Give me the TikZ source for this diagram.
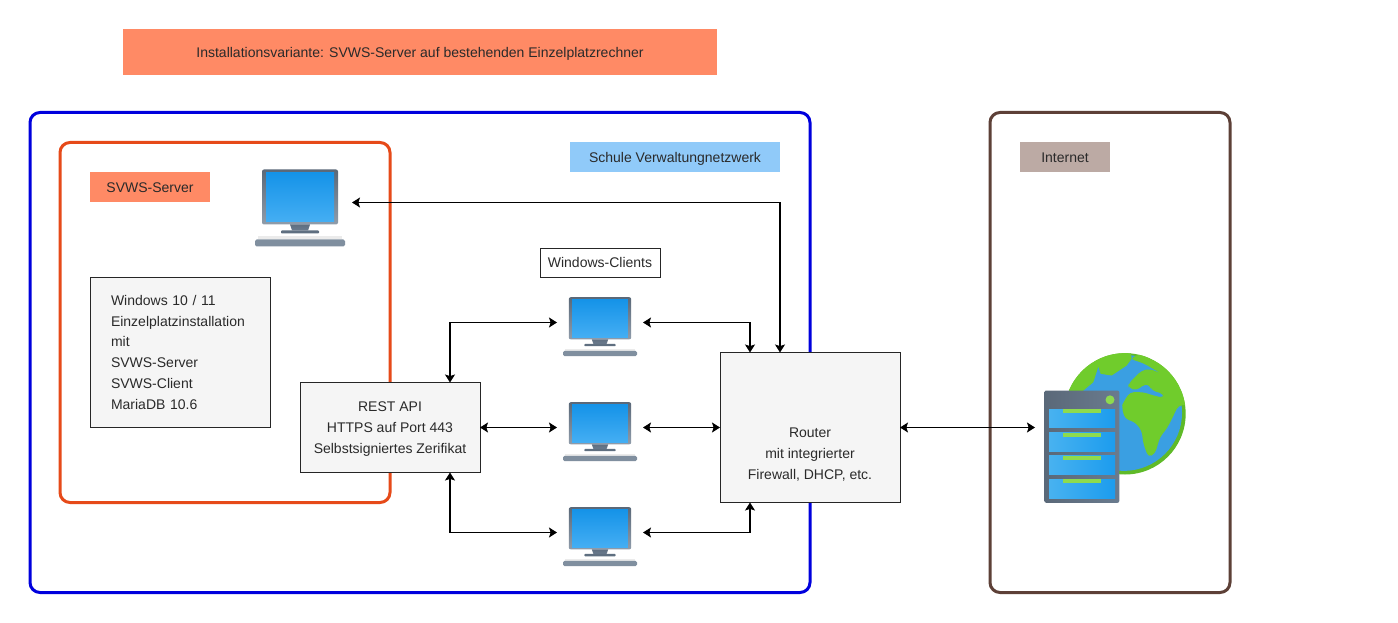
\documentclass[tikz,border=0pt]{standalone}
\usepackage{fontspec}
\setmainfont{Liberation Sans}
\usetikzlibrary{arrows.meta}
\def\px{0.75pt}
\newcommand\stTop{\rule{0pt}{9.5pt}}
\newcommand\stBot{\rule[-2pt]{0pt}{2pt}}
\definecolor{salmon}{HTML}{FF8A65}
\definecolor{skyb}{HTML}{90CAF9}
\definecolor{taupe}{HTML}{BCAAA4}
\definecolor{framebl}{HTML}{0000DD}
\definecolor{frameor}{HTML}{E64A19}
\definecolor{framebr}{HTML}{5D4037}
\definecolor{boxfill}{HTML}{F5F5F5}
\definecolor{txt}{HTML}{2A2A2A}
\definecolor{slate}{HTML}{6A7B8E}
\definecolor{glgreen}{HTML}{70CC2C}
\definecolor{glrim}{HTML}{5FBA28}
\definecolor{glblue}{HTML}{3A9FE2}
\definecolor{barg}{HTML}{8EDB4E}
\tikzset{
  every node/.style={font=\fontsize{10.5}{15.75}\selectfont, text=txt, outer sep=0pt},
  frame/.style={draw, line width=2.25pt, rounded corners=7.5pt, fill=none},
  label/.style={fill=#1, align=center, text height=9.5pt, text depth=2pt, inner ysep=0pt},
  whitebox/.style={draw=black!85, line width=\px, fill=white, align=center, text height=9.5pt, text depth=2pt, inner ysep=0pt},
  infobox/.style={draw=black!85, line width=\px, fill=boxfill, align=center, inner ysep=0pt},
  anchorbox/.style={inner sep=0pt},
  link/.style={line width=0.85pt, black, {Stealth[length=6pt,width=7.5pt,inset=1.2pt]}-{Stealth[length=6pt,width=7.5pt,inset=1.2pt]}},
  monitor/.pic={
    \shade[top color=slate!85!black, bottom color=slate!75, rounded corners=1.5pt] (-38,-33) rectangle (38,22);
    \shade[top color=slate!90!black, bottom color=slate] (-10,22) -- (10,22) -- (8,28) -- (-8,28) -- cycle;
    \fill[slate!90!black, rounded corners=.6pt] (-19,28) rectangle (19,31);
    \shade[top color={rgb,255:red,21;green,147;blue,232}, bottom color={rgb,255:red,68;green,174;blue,243}] (-34,-30) rectangle (34,19);
    \fill[black!8] (-42,34) rectangle (42,37);
    \fill[slate!85, rounded corners=1.2pt] (-45,37) rectangle (45,44);
  }
}
\begin{document}
\begin{tikzpicture}[x=0.75pt,y=-0.75pt]
\useasboundingbox (0,-0.5) rectangle (1398,622.5);
\fill[white] (0,-0.5) rectangle (1398,622.5);

% frames
\node[frame, draw=framebl, minimum width=780*\px, minimum height=480*\px] (netz) at (420,352) {};
\node[frame, draw=frameor, minimum width=330*\px, minimum height=360*\px] (srvframe) at (225,322) {};
\node[frame, draw=framebr, minimum width=240*\px, minimum height=480*\px] (inet) at (1110,352) {};

% labels
\node[label=salmon, minimum width=594*\px, minimum height=46*\px] (title) at (420,52) {Installationsvariante: SVWS-Server auf bestehenden Einzelplatzrechner};
\node[label=salmon, minimum width=120*\px, minimum height=30*\px] (lsrv) at (150,187) {SVWS-Server};
\node[label=skyb, minimum width=210*\px, minimum height=30*\px] (lnetz) at (675,157) {Schule Verwaltungnetzwerk};
\node[label=taupe, minimum width=90*\px, minimum height=30*\px] (linet) at (1065,157) {Internet};
\node[whitebox, minimum width=120*\px, minimum height=29*\px] (lclients) at (600,262.5) {Windows-Clients};

% boxes
\node[infobox, minimum width=180*\px, minimum height=150*\px, text width=138*\px, inner xsep=21*\px, align=left] (os) at (180,352)
  {\stTop Windows 10 / 11\\Einzelplatzinstallation\\mit\\SVWS-Server\\SVWS-Client\\MariaDB 10.6\stBot};
\node[infobox, minimum width=180*\px, minimum height=90*\px] (api) at (390,427)
  {\stTop REST API\\HTTPS auf Port 443\\Selbstsigniertes Zerifikat\stBot};
\node[infobox, minimum width=180*\px, minimum height=150*\px] (router) at (810,427)
  {\rule{0pt}{48.5pt}Router\\mit integrierter\\Firewall, DHCP, etc.\stBot};

% icon anchors
\node[anchorbox, minimum width=104*\px, minimum height=80*\px] (host) at (300,202) {};
\node[anchorbox, minimum width=86*\px, minimum height=60*\px] (c1) at (600,322) {};
\node[anchorbox, minimum width=86*\px, minimum height=60*\px] (c2) at (600,427) {};
\node[anchorbox, minimum width=86*\px, minimum height=60*\px] (c3) at (600,532) {};
\node[anchorbox, minimum width=150*\px, minimum height=150*\px] (www) at (1110,427) {};

% icons
\pic at (host.center) {monitor};
\pic[xscale=.822,yscale=.766] at (c1.center) {monitor};
\pic[xscale=.822,yscale=.766] at (c2.center) {monitor};
\pic[xscale=.822,yscale=.766] at (c3.center) {monitor};

% globe and server (coordinates of a 3x crop)
\begin{scope}[shift={(1030,340)},x=0.25pt,y=-0.25pt]
  \fill[glrim] (285,220) circle (182);
  \fill[glblue] (282,217) circle (174);
  \begin{scope}
    \clip (285,220) circle (182);
    % north-west land
    \fill[glgreen] (90,240) -- (100,120) -- (180,40) -- (300,25) -- (305,55) -- (290,75) -- (245,105) -- (212,100) -- (205,78) -- (190,125) -- (160,150) -- (130,240) -- cycle;
    % Eurasia and Africa
    \fill[glgreen, rounded corners=3pt] (295,130) -- (335,90) -- (360,85) -- (395,100) -- (340,68) -- (300,55) -- (330,40) -- (430,90) -- (480,150) -- (480,192) -- (445,195) -- (432,222) -- (412,262) -- (390,290) -- (375,340) -- (355,350) -- (340,310) -- (335,270) -- (315,245) -- (285,235) -- (275,200) -- (280,185) -- (300,155) -- (340,155) -- (370,165) -- (402,172) -- (400,160) -- (365,150) -- (360,135) -- (345,130) -- (320,150) -- (295,142) -- cycle;
  \end{scope}
  \shade[left color=slate!85!black, right color=slate, rounded corners=1.5pt] (43,150) rectangle (268,487);
  \fill[barg] (240,178) circle (13.5);
  \foreach \t/\b in {206/262, 276/332, 346/402, 416/473}{
    \shade[left color={rgb,255:red,72;green,178;blue,240}, right color={rgb,255:red,28;green,156;blue,238}] (57,\t) rectangle (255,\b);
    \fill[barg] (100,\t) rectangle (212,\t+12);
  }
\end{scope}

% connectors
\draw[link] (host.east) -| ([xshift=-30*\px]router.north);
\draw[link] (c1.east) -| ([xshift=-60*\px]router.north);
\draw[link] (c2.east) -- (c2.east -| router.west);
\draw[link] (c3.east) -| ([xshift=-60*\px]router.south);
\draw[link] ([xshift=60*\px]api.north) |- (c1.west);
\draw[link] (api.east |- c2.west) -- (c2.west);
\draw[link] ([xshift=60*\px]api.south) |- (c3.west);
\draw[link] (router.east) -- (www.west);
\end{tikzpicture}
\end{document}
